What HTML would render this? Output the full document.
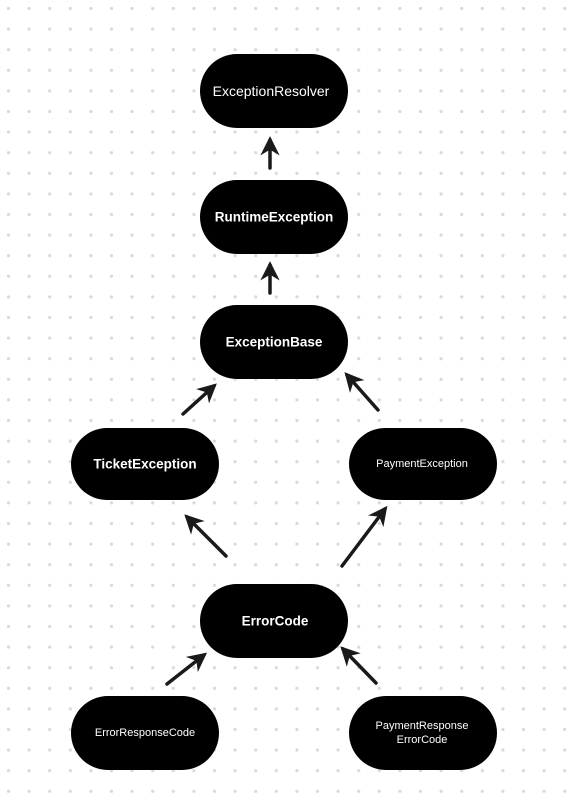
<!DOCTYPE html>
<html><head><meta charset="utf-8"><style>
html,body{margin:0;padding:0;background:#fff}
svg{display:block}
text{font-family:"Liberation Sans",sans-serif;fill:#fff;text-anchor:middle;dominant-baseline:central}
</style></head><body>
<svg width="568" height="805" viewBox="0 0 568 805" xmlns="http://www.w3.org/2000/svg">
<defs>
<pattern id="d" x="-1.8" y="-1.8" width="20.6" height="20.6" patternUnits="userSpaceOnUse">
<circle cx="10.3" cy="10.3" r="1.6" fill="#d9d9d9"/>
</pattern>
<marker id="a" viewBox="0 0 10 10" refX="8" refY="5" markerWidth="5.5" markerHeight="5.5" orient="auto">
<path d="M0,0 L10,5 L0,10 L3,5 Z" fill="#1a1a1a"/>
</marker>
</defs>
<rect width="568" height="805" fill="url(#d)"/>
<g stroke="#1a1a1a" stroke-width="3.5" fill="none" stroke-linecap="round" marker-end="url(#a)">
<line x1="270" y1="168" x2="270" y2="140"/>
<line x1="270" y1="293" x2="270" y2="265"/>
<line x1="183" y1="414" x2="214" y2="386"/>
<line x1="378" y1="410" x2="347" y2="375"/>
<line x1="226" y1="556" x2="187" y2="517"/>
<line x1="342" y1="566" x2="385" y2="509"/>
<line x1="167" y1="684" x2="204" y2="655"/>
<line x1="376" y1="683" x2="343" y2="649"/>
</g>
<g fill="#000">
<rect x="200" y="54" width="148" height="74" rx="37"/>
<rect x="200" y="180" width="148" height="74" rx="37"/>
<rect x="200" y="305" width="148" height="74" rx="37"/>
<rect x="71" y="428" width="148" height="72" rx="36"/>
<rect x="349" y="428" width="148" height="72" rx="36"/>
<rect x="200" y="584" width="148" height="74" rx="37"/>
<rect x="71" y="696" width="148" height="74" rx="37"/>
<rect x="349" y="696" width="148" height="74" rx="37"/>
</g>
<text x="271" y="91" font-size="14">ExceptionResolver</text>
<text x="274" y="217" font-size="13.5" font-weight="bold">RuntimeException</text>
<text x="274" y="342" font-size="13.5" font-weight="bold">ExceptionBase</text>
<text x="145" y="464" font-size="13.5" font-weight="bold">TicketException</text>
<text x="422" y="464" font-size="11">PaymentException</text>
<text x="275" y="621" font-size="13.5" font-weight="bold">ErrorCode</text>
<text x="145" y="733" font-size="11">ErrorResponseCode</text>
<text x="422" y="726" font-size="11">PaymentResponse</text>
<text x="422" y="740" font-size="11">ErrorCode</text>
</svg>
</body></html>
